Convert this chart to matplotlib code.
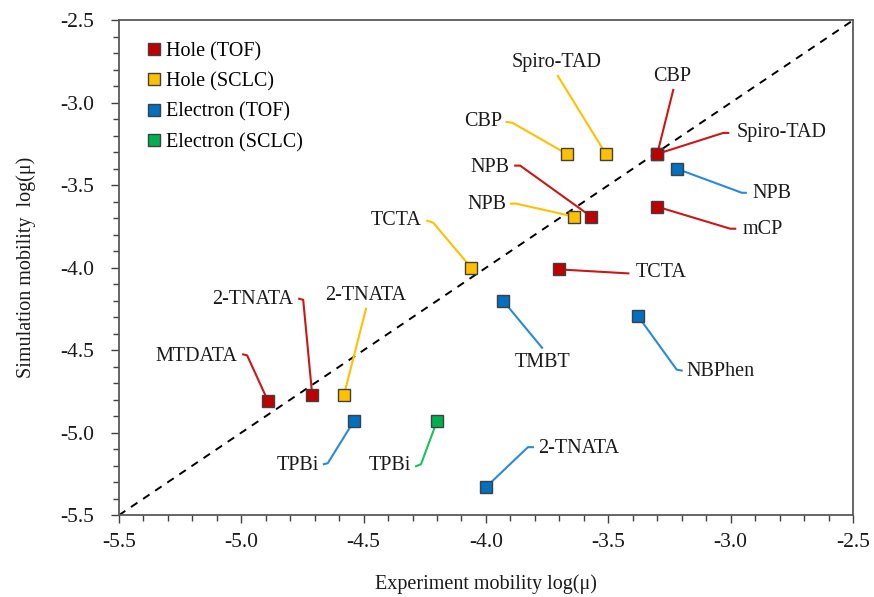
import matplotlib
matplotlib.use("Agg")
import matplotlib.pyplot as plt
from matplotlib.transforms import offset_copy

plt.rcParams['font.family'] = ['Liberation Serif', 'DejaVu Serif']
plt.rcParams['font.size'] = 14.5

# data: experiment vs simulation mobility, log10 values
hole_tof_names = ['MTDATA', '2-TNATA', 'NPB', 'CBP', 'Spiro-TAD', 'mCP', 'TCTA']
hole_tof_x = [-4.89, -4.71, -3.57, -3.30, -3.30, -3.30, -3.70]
hole_tof_y = [-4.81, -4.77, -3.69, -3.31, -3.31, -3.63, -4.01]

hole_sclc_names = ['CBP', 'Spiro-TAD', 'NPB', 'TCTA', '2-TNATA']
hole_sclc_x = [-3.67, -3.51, -3.64, -4.06, -4.58]
hole_sclc_y = [-3.31, -3.31, -3.69, -4.00, -4.77]

elec_tof_names = ['NPB', 'TMBT', 'NBPhen', 'TPBi', '2-TNATA']
elec_tof_x = [-3.22, -3.93, -3.38, -4.54, -4.00]
elec_tof_y = [-3.40, -4.20, -4.29, -4.93, -5.33]

elec_sclc_names = ['TPBi']
elec_sclc_x = [-4.20]
elec_sclc_y = [-4.93]

series = [
    ('Hole (TOF)', hole_tof_names, hole_tof_x, hole_tof_y, '#C00000', '#C81818'),
    ('Hole (SCLC)', hole_sclc_names, hole_sclc_x, hole_sclc_y, '#FFC000', '#FFC000'),
    ('Electron (TOF)', elec_tof_names, elec_tof_x, elec_tof_y, '#0070C0', '#2A8AD8'),
    ('Electron (SCLC)', elec_sclc_names, elec_sclc_x, elec_sclc_y, '#00B050', '#1FC060'),
]

# label layout in pixels relative to the point: text pos, ha, leader points
labels = {
    ('Hole (SCLC)', 'CBP'): ((-65, 32), 'right', [(-60, 32), (-54, 31)]),
    ('Hole (SCLC)', 'Spiro-TAD'): ((-49, 91), 'center', [(-48, 78)]),
    ('Hole (TOF)', 'CBP'): ((15, 77), 'center', [(16, 64)]),
    ('Hole (TOF)', 'Spiro-TAD'): ((79, 21), 'left', [(71, 21), (66, 21)]),
    ('Hole (TOF)', 'NPB'): ((-82, 49), 'right', [(-76, 51), (-71, 51)]),
    ('Hole (SCLC)', 'NPB'): ((-68, 12), 'right', [(-63, 13), (-58, 13)]),
    ('Electron (TOF)', 'NPB'): ((76, -25), 'left', [(69, -24), (65, -24)]),
    ('Hole (TOF)', 'mCP'): ((85, -23), 'left', [(78, -22), (73, -22)]),
    ('Hole (TOF)', 'TCTA'): ((76, -3), 'left', [(69, -4)]),
    ('Hole (SCLC)', 'TCTA'): ((-50, 47), 'right', [(-44, 47), (-38, 45)]),
    ('Hole (TOF)', 'MTDATA'): ((-31, 45), 'right', [(-25, 47), (-21, 46)]),
    ('Hole (TOF)', '2-TNATA'): ((-19, 95), 'right', [(-13, 96), (-9, 95)]),
    ('Hole (SCLC)', '2-TNATA'): ((22, 99), 'center', [(22, 86)]),
    ('Electron (TOF)', 'TPBi'): ((-35, -44), 'right', [(-30, -43), (-26, -42)]),
    ('Electron (SCLC)', 'TPBi'): ((-26, -44), 'right', [(-21, -45), (-16, -43)]),
    ('Electron (TOF)', 'TMBT'): ((39, -62), 'center', [(39, -47)]),
    ('Electron (TOF)', 'NBPhen'): ((49, -56), 'left', [(44, -55), (39, -54)]),
    ('Electron (TOF)', '2-TNATA'): ((52, 39), 'left', [(47, 40), (42, 40)]),
}

tick_vals = [-5.5, -5.0, -4.5, -4.0, -3.5, -3.0, -2.5]
tick_text = ['-5.5', '-5.0', '-4.5', '-4.0', '-3.5', '-3.0', '-2.5']

fig = plt.figure(figsize=(8.74, 5.97), dpi=100)
ax = fig.add_axes([0.136, 0.137, 0.84, 0.829])
ax.set_xlim(-5.5, -2.5)
ax.set_ylim(-5.5, -2.5)

ax.plot([-5.5, -2.5], [-5.5, -2.5], color='black', ls=(0, (4, 3.5)), lw=1.4, zorder=1)

to_disp = ax.transData
to_data = ax.transData.inverted()

for name, names, xs, ys, col, lcol in series:
    ax.plot(xs, ys, ls='none', marker='s', ms=8, mfc=col, mec='#404040', mew=1.0,
            label=name, zorder=4)
    for n, x, y in zip(names, xs, ys):
        (tx, ty), ha, pts = labels[(name, n)]
        # leader line: label side -> bend -> data point (offsets in pixels)
        px, py = to_disp.transform((x, y))
        path = [to_data.transform((px + dx, py + dy)) for dx, dy in pts]
        lx = [p[0] for p in path] + [x]
        ly = [p[1] for p in path] + [y]
        ax.plot(lx, ly, color=lcol, lw=1.5, zorder=2, solid_joinstyle='round')
        tt = offset_copy(ax.transData, fig=fig, x=tx, y=ty, units='dots')
        ax.text(x, y, n, transform=tt, ha=ha, va='center', color='#1a1a1a')

ax.set_xticks(tick_vals)
ax.set_yticks(tick_vals)
ax.set_xticks([v / 10 for v in range(-55, -24)], minor=True)
ax.set_yticks([v / 10 for v in range(-55, -24)], minor=True)
ax.set_xticklabels(tick_text)
ax.set_yticklabels(tick_text)
ax.tick_params(which='both', direction='out', color='#404040', width=1.0)
ax.tick_params(which='major', length=5.5, labelcolor='#1a1a1a', labelsize=15.5)
ax.tick_params(which='minor', length=4)
ax.tick_params(axis='x', which='major', pad=7.5)
ax.tick_params(axis='y', which='major', pad=12)
for s in ax.spines.values():
    s.set_color('#595959')
    s.set_linewidth(1.3)

ax.set_xlabel('Experiment mobility log(\u03bc)', labelpad=16, color='#1a1a1a')
ax.set_ylabel('Simulation mobility  log(\u03bc)', labelpad=18, color='#1a1a1a')

ax.legend(loc='upper left', bbox_to_anchor=(0.02, 0.985), frameon=False,
          handlelength=0.6, handletextpad=0.3, labelspacing=0.55,
          borderaxespad=0.3, markerscale=1.0)

fig.savefig('out.png', dpi=100)
